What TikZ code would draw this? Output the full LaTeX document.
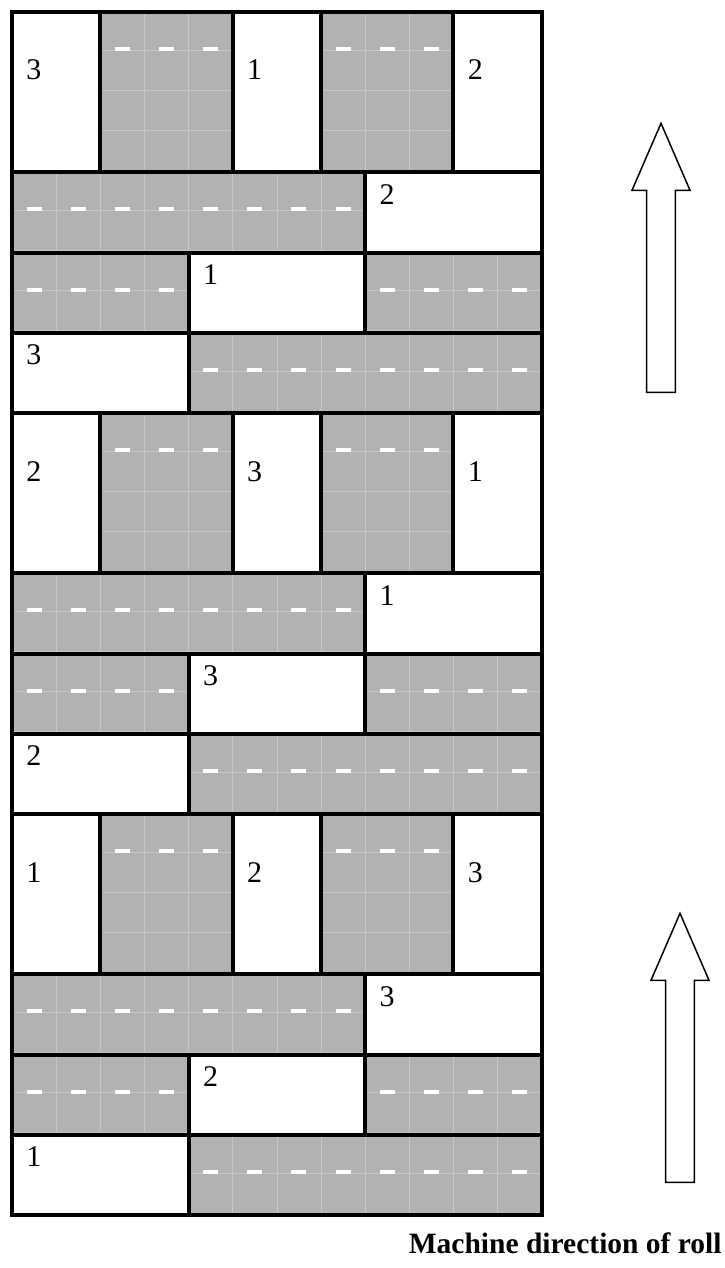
\documentclass[tikz,border=0pt]{standalone}
\usepackage{fontspec}
\setmainfont{Liberation Serif}

% one grey strip with its faint seams and white slits: x1, y1, x2, y2
\newcommand{\rollpanel}[4]{%
  \fill[panel] (#1,#2) rectangle (#3,#4);
  \pgfmathtruncatemacro{\ntile}{round((#3-#1)/44.15)}
  \pgfmathsetmacro{\tilew}{(#3-#1)/\ntile}
  \pgfmathtruncatemacro{\nseam}{floor((#4-#2-40)/40)}
  \foreach \j in {0,...,\nseam} {
    \draw[seam] (#1,{#2+38+40*\j}) -- (#3,{#2+38+40*\j});
  }
  \foreach \k in {1,...,\ntile} {
    \pgfmathsetmacro{\xc}{#1+(\k-0.5)*\tilew}
    \draw[seam] ({#1+\k*\tilew},#2) -- ({#1+\k*\tilew},#4);
    \fill[slit] (\xc-7.5,#2+35) rectangle (\xc+7.5,#2+39);
  }
}

\begin{document}
\begin{tikzpicture}[x=0.5pt, y=-0.5pt,
    panel/.style={fill=black!30},
    seam/.style={draw=black!22, line width=0.3pt},
    slit/.style={fill=white},
    border/.style={line width=2pt, line cap=rect},
    cellnum/.style={anchor=base west, inner sep=0pt, font=\fontsize{15}{18}\selectfont},
    rollarrow/.style={draw, line width=0.75pt, fill=white, line join=miter}]
  \useasboundingbox (0,0) rectangle (724,1268);

  % three repeats of the lay-out, top to bottom
  \foreach \b/\ta/\tb/\tc/\ra/\rb/\rc in {0/3/1/2/2/1/3, 1/2/3/1/1/3/2, 2/1/2/3/3/2/1} {
    \pgfmathsetmacro{\ytall}{12+401*\b}
    \pgfmathsetmacro{\ytwo}{\ytall+160.4}
    \pgfmathsetmacro{\ythree}{\ytall+240.6}
    \pgfmathsetmacro{\yfour}{\ytall+320.8}
    \pgfmathsetmacro{\yend}{\ytall+401}
    % grey strips
    \rollpanel{100.3}{\ytall}{232.7}{\ytwo}
    \rollpanel{321.0}{\ytall}{453.4}{\ytwo}
    \rollpanel{12}{\ytwo}{365.1}{\ythree}
    \rollpanel{12}{\ythree}{188.6}{\yfour}
    \rollpanel{365.1}{\ythree}{541.7}{\yfour}
    \rollpanel{188.6}{\yfour}{541.7}{\yend}
    % lines
    \draw[border] (12,\ytall) -- (541.7,\ytall);
    \draw[border] (12,\ytwo) -- (541.7,\ytwo);
    \draw[border] (12,\ythree) -- (541.7,\ythree);
    \draw[border] (12,\yfour) -- (541.7,\yfour);
    \foreach \xv in {100.3, 232.7, 321.0, 453.4}
      \draw[border] (\xv,\ytall) -- (\xv,\ytwo);
    \draw[border] (365.1,\ytwo) -- (365.1,\ythree);
    \draw[border] (188.6,\ythree) -- (188.6,\yfour);
    \draw[border] (365.1,\ythree) -- (365.1,\yfour);
    \draw[border] (188.6,\yfour) -- (188.6,\yend);
    % numbers
    \node[cellnum] (tall\b a) at (26,\ytall+68) {\ta};
    \node[cellnum] (tall\b b) at (246.7,\ytall+68) {\tb};
    \node[cellnum] (tall\b c) at (467.4,\ytall+68) {\tc};
    \node[cellnum] (row\b a) at (379.1,\ytwo+32) {\ra};
    \node[cellnum] (row\b b) at (202.6,\ythree+32) {\rb};
    \node[cellnum] (row\b c) at (26,\yfour+32) {\rc};
  }
  \draw[border] (12,12) rectangle (541.7,1215);

  % direction arrows
  \foreach \cx/\ty in {661/123.3, 680/913.3}
    \draw[rollarrow] (\cx,\ty) -- (\cx+29,\ty+67) -- (\cx+14.3,\ty+67)
      -- (\cx+14.3,\ty+269) -- (\cx-14.3,\ty+269) -- (\cx-14.3,\ty+67)
      -- (\cx-29,\ty+67) -- cycle;

  \node[anchor=base east, inner sep=0pt, font=\fontsize{14.75}{18}\selectfont\bfseries]
    (caption) at (722,1253) {Machine direction of roll};
\end{tikzpicture}
\end{document}
